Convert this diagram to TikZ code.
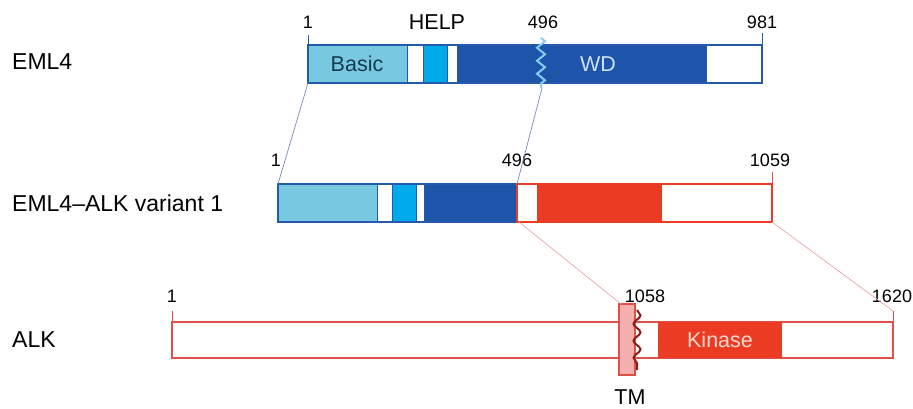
\documentclass[tikz,border=0pt]{standalone}
\usepackage{fontspec}
\setmainfont{Liberation Sans}
\usetikzlibrary{decorations.pathmorphing}

\definecolor{blueout}{RGB}{35,90,170}
\definecolor{basicfill}{RGB}{120,200,225}
\definecolor{helpfill}{RGB}{0,170,235}
\definecolor{wdfill}{RGB}{30,85,170}
\definecolor{zigblue}{RGB}{130,205,240}
\definecolor{redfill}{RGB}{235,60,35}
\definecolor{alkout}{RGB}{225,80,70}
\definecolor{tmfill}{RGB}{245,175,175}
\definecolor{tmwave}{RGB}{140,30,30}
\definecolor{linkblue}{RGB}{120,140,175}
\definecolor{linkred}{RGB}{235,165,165}

\begin{document}
\begin{tikzpicture}[x=1pt, y=-1pt, every node/.style={inner sep=0pt},
    num/.style={font=\fontsize{18}{21}\selectfont},
    protname/.style={font=\fontsize{23}{27}\selectfont, anchor=west},
    dom/.style={font=\fontsize{21.5}{25}\selectfont},
    seg/.style={draw=blueout, line width=1pt},
    link/.style={line width=0.7pt}]
    \useasboundingbox (0,0) rectangle (913,408);

    % Названия
    \node[protname] (eml) at (12,62) {EML4};
    \node[protname] (var) at (12,203) {EML4–ALK variant 1};
    \node[protname] (alk) at (12,340) {ALK};

    % EML4
    \draw[seg, fill=basicfill] (308,45) rectangle (407,83);
    \draw[seg, fill=white] (407,45) rectangle (423,83);
    \draw[seg, fill=helpfill] (423,45) rectangle (447,83);
    \draw[seg, fill=white] (447,45) rectangle (457,83);
    \draw[seg, fill=wdfill] (457,45) rectangle (706,83);
    \draw[blueout, line width=2pt] (308,45) rectangle (762,83);
    \draw[zigblue, line width=2pt, decorate, decoration={zigzag, amplitude=4pt, segment length=13pt}] (541,38) -- (541,88);
    \draw[blueout, thin] (308,35) -- (308,45);
    \draw[blueout, thin] (762,33) -- (762,45);
    \node[dom, text={rgb,255:red,20;green,60;blue,80}] (basic) at (357,64) {Basic};
    \node[dom, text={rgb,255:red,205;green,225;blue,245}] (wd) at (598,64) {WD};
    \node[num] (e1) at (308,22) {1};
    \node[dom] (help) at (437,22) {HELP};
    \node[num] (e496) at (543,22) {496};
    \node[num] (e981) at (762,22) {981};

    % Вариант 1
    \draw[seg, fill=basicfill] (278,184) rectangle (377,222);
    \draw[seg, fill=white] (377,184) rectangle (392,222);
    \draw[seg, fill=helpfill] (392,184) rectangle (416,222);
    \draw[seg, fill=white] (416,184) rectangle (424,222);
    \draw[seg, fill=wdfill] (424,184) rectangle (517,222);
    \draw[blueout, line width=2pt] (278,184) rectangle (517,222);
    \fill[redfill] (537,184) rectangle (662,222);
    \draw[redfill, line width=2pt] (517,184) rectangle (772,222);
    \draw[alkout, thin] (772,172) -- (772,184);
    \node[num] (v1) at (276,160) {1};
    \node[num] (v496) at (517,160) {496};
    \node[num] (v1059) at (770,160) {1059};

    % ALK
    \draw[alkout, line width=2pt, fill=white] (172,322) rectangle (893,358);
    \fill[redfill] (658,322) rectangle (782,358);
    \draw[alkout, line width=1.5pt, fill=tmfill] (619,304) rectangle (635,375);
    \draw[tmwave, line width=2pt, decorate, decoration={snake, amplitude=3.5pt, segment length=17pt}] (637,310) -- (637,370);
    \draw[alkout, thin] (172,311) -- (172,322);
    \draw[alkout, thin] (893,311) -- (893,322);
    \node[dom, text={rgb,255:red,250;green,215;blue,205}] (kin) at (720,340) {Kinase};
    \node[num] (a1) at (172,296) {1};
    \node[num] (a1058) at (645,296) {1058};
    \node[num] (a1620) at (892,296) {1620};
    \node[dom, anchor=base] (tm) at (630,404) {TM};

    % Соединения
    \coordinate (pe1) at (308,83);
    \coordinate (pe496) at (542,88);
    \coordinate (pv1) at (278,184);
    \coordinate (pv496) at (517,184);
    \coordinate (qv496) at (519,222);
    \coordinate (qv1059) at (772,222);
    \coordinate (pa1058) at (621,304);
    \coordinate (pa1620) at (893,311);
    \draw[link, linkblue] (pe1) -- (pv1);
    \draw[link, linkblue] (pe496) -- (pv496);
    \draw[link, linkred] (qv496) -- (pa1058);
    \draw[link, linkred] (qv1059) -- (pa1620);
\end{tikzpicture}
\end{document}
